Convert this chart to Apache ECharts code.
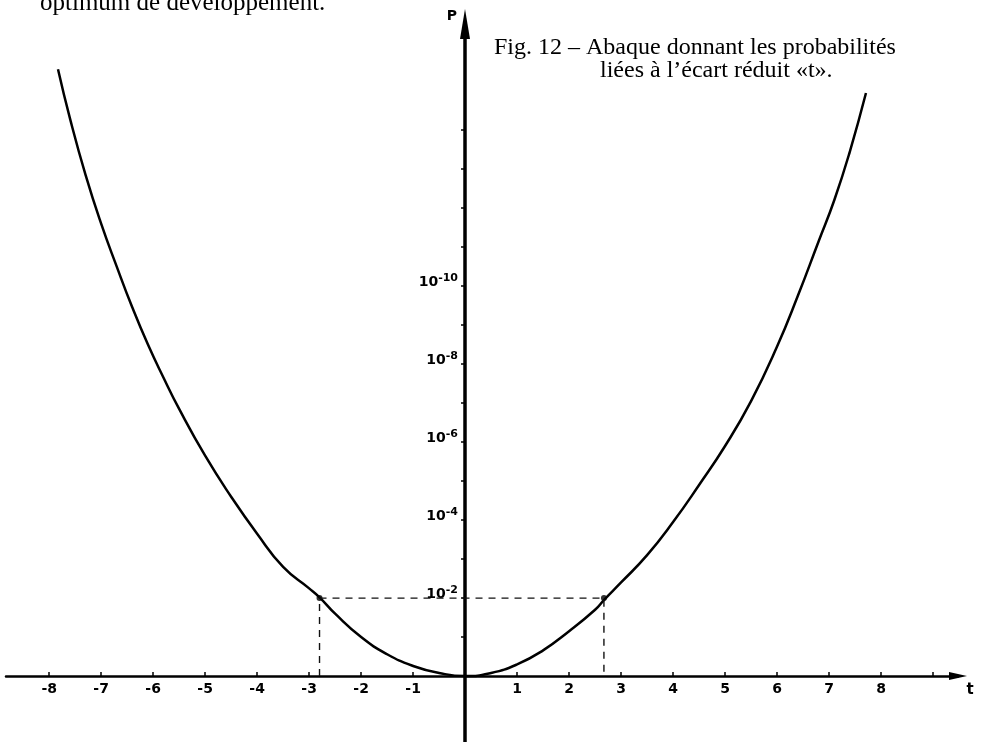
<!DOCTYPE html>
<html>
<head>
<meta charset="utf-8">
<title>Abaque</title>
<script src="https://cdn.jsdelivr.net/npm/echarts@6/dist/echarts.min.js"></script>
<style>
  html, body { margin: 0; padding: 0; background: #fff; }
  #abaque-chart { width: 981px; height: 742px; }
</style>
</head>
<body>
<div id="abaque-chart"></div>
<script>
// ecart reduit t  /  -log10(P)
const curveT = [-7.83, -7.6, -7.3, -7.0, -6.7, -6.4, -6.1, -5.8, -5.5, -5.0, -4.5, -4.0, -3.5, -3.0, -2.8, -2.5, -2.0, -1.5, -1.0, -0.5, 0,
  0.5, 1.0, 1.5, 2.0, 2.5, 2.67, 3.0, 3.5, 4.0, 4.5, 5.0, 5.5, 6.0, 6.4, 6.8, 7.1, 7.4, 7.71]
const curveLogP = [15.56, 14.3, 12.85, 11.6, 10.5, 9.45, 8.5, 7.65, 6.85, 5.65, 4.6, 3.65, 2.8, 2.25, 2.02, 1.6, 1.0, 0.56, 0.26, 0.08, 0,
  0.08, 0.3, 0.66, 1.15, 1.7, 1.95, 2.4, 3.1, 3.95, 4.9, 5.9, 7.05, 8.45, 9.75, 11.15, 12.2, 13.45, 14.95]

// the 10^-2 threshold
const thresholdT = [-2.8, 2.67]
const thresholdLogP = 2

const xTickValues = [-8, -7, -6, -5, -4, -3, -2, -1, 1, 2, 3, 4, 5, 6, 7, 8, 9]
const xLabelValues = [-8, -7, -6, -5, -4, -3, -2, -1, 1, 2, 3, 4, 5, 6, 7, 8]
const yTickValues = [1, 2, 3, 4, 5, 6, 7, 8, 9, 10, 11, 12, 13, 14]
const yLabelValues = [2, 4, 6, 8, 10]

const curveData = curveT.map((t, i) => [t, curveLogP[i]])
const dashData = [
  [thresholdT[0], 0],
  [thresholdT[0], thresholdLogP],
  [thresholdT[1], thresholdLogP],
  [thresholdT[1], 0]
]

const labelFont = '"DejaVu Sans", "Liberation Sans", sans-serif'
const textFont = '"Liberation Serif", "Times New Roman", serif'

const chart = echarts.init(document.getElementById('abaque-chart'))

const option = {
  animation: false,
  backgroundColor: '#fff',
  grid: {
    left: 6,
    right: 23,
    top: 24,
    bottom: 0,
    containLabel: false,
    outerBoundsMode: 'none'
  },
  xAxis: {
    type: 'value',
    min: -8.83,
    max: 9.48,
    position: 'bottom',
    // the axis sits on P = 1, 66px above the bottom of the grid
    offset: -66,
    name: 't',
    nameLocation: 'end',
    nameGap: 12,
    nameTextStyle: {
      align: 'center',
      verticalAlign: 'top',
      padding: [7, 0, 0, 0],
      fontFamily: labelFont,
      fontWeight: 'bold',
      fontSize: 15,
      color: '#000'
    },
    splitLine: {show: false},
    axisLine: {
      onZero: false,
      symbol: ['none', 'triangle'],
      symbolSize: [8, 18],
      lineStyle: {color: '#000', width: 2.5}
    },
    axisTick: {
      inside: true,
      length: 4,
      customValues: xTickValues,
      lineStyle: {color: '#000', width: 1.5}
    },
    axisLabel: {
      customValues: xLabelValues,
      margin: 6,
      formatter: (v) => String(v),
      fontFamily: labelFont,
      fontWeight: 'bold',
      fontSize: 14,
      color: '#000'
    }
  },
  yAxis: {
    type: 'value',
    min: -1.69,
    max: 16.72,
    position: 'left',
    // the axis sits on t = 0
    offset: -459,
    name: 'P',
    nameLocation: 'end',
    nameGap: 8,
    nameTextStyle: {
      align: 'right',
      verticalAlign: 'middle',
      padding: [0, 8, 0, 0],
      fontFamily: labelFont,
      fontWeight: 'bold',
      fontSize: 14,
      color: '#000'
    },
    splitLine: {show: false},
    axisLine: {
      onZero: false,
      symbol: ['none', 'triangle'],
      symbolSize: [10, 30],
      lineStyle: {color: '#000', width: 3.5}
    },
    axisTick: {
      length: 4,
      customValues: yTickValues,
      lineStyle: {color: '#000', width: 1.5}
    },
    axisLabel: {
      customValues: yLabelValues,
      margin: 7,
      padding: [0, 0, 10, 0],
      formatter: (v) => '{b|10}{s|-' + v + '}',
      rich: {
        b: {
          fontFamily: labelFont,
          fontWeight: 'bold',
          fontSize: 14,
          lineHeight: 17,
          verticalAlign: 'bottom',
          color: '#000'
        },
        s: {
          fontFamily: labelFont,
          fontWeight: 'bold',
          fontSize: 11,
          lineHeight: 10,
          verticalAlign: 'top',
          color: '#000'
        }
      }
    }
  },
  graphic: [
    {
      type: 'text',
      left: 40,
      top: -9,
      style: {
        text: 'optimum de développement.',
        font: '25px ' + textFont,
        fill: '#000'
      }
    },
    {
      type: 'text',
      left: 494,
      top: 36,
      style: {
        text: 'Fig. 12 – Abaque donnant les probabilités',
        font: '24px ' + textFont,
        fill: '#000'
      }
    },
    {
      type: 'text',
      left: 600,
      top: 59,
      style: {
        text: 'liées à l\u2019écart réduit «t».',
        font: '24px ' + textFont,
        fill: '#000'
      }
    }
  ],
  series: [
    {
      name: 'abaque',
      type: 'line',
      data: curveData,
      smooth: true,
      showSymbol: false,
      lineStyle: {color: '#000', width: 2.5}
    },
    {
      name: 'seuil',
      type: 'line',
      data: dashData,
      showSymbol: false,
      lineStyle: {color: '#111', width: 1.4, type: [7, 6]}
    },
    {
      name: 'points',
      type: 'scatter',
      data: dashData.slice(1, 3),
      symbolSize: 6,
      itemStyle: {color: '#000'}
    }
  ]
}

chart.setOption(option)
</script>
</body>
</html>
